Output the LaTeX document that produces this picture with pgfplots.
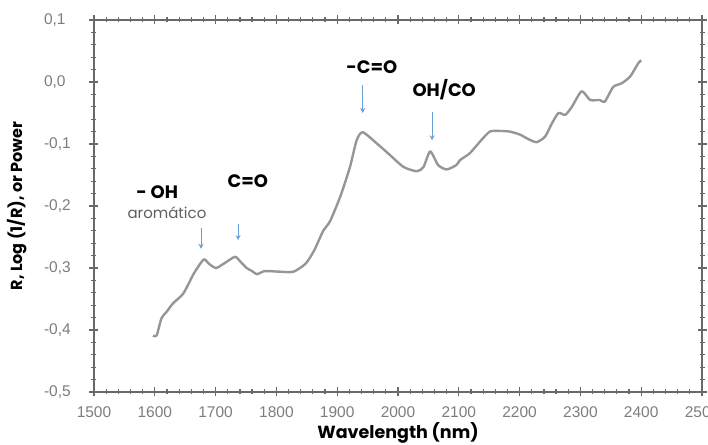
\documentclass[border=0pt]{standalone}
\usepackage{pgfplots}
\pgfplotsset{compat=1.18}
\usepackage{fontspec}
\setmainfont{Liberation Sans}
\newfontfamily\pop{Poppins}
\usetikzlibrary{arrows.meta}

\definecolor{axgray}{RGB}{105,105,105}
\definecolor{tickgray}{RGB}{125,125,125}
\definecolor{curvegray}{RGB}{150,150,150}
\definecolor{arrowblue}{RGB}{105,160,215}
\definecolor{softgray}{RGB}{95,95,95}

\begin{document}
\begin{tikzpicture}
\begin{axis}[
  name=ax,
  width=608pt, height=372pt, scale only axis,
  xmin=1500, xmax=2500, ymin=-0.5, ymax=0.1,
  xtick={1500,1600,...,2500},
  ytick={-0.5,-0.4,-0.3,-0.2,-0.1,0,0.1},
  minor x tick num=4, minor y tick num=4,
  tick align=center,
  major tick length=9pt, minor tick length=5pt,
  every tick/.style={draw=axgray, line width=1.2pt},
  axis line style={draw=axgray, line width=1.6pt},
  tick label style={font=\fontsize{15.5}{17}\selectfont, text=tickgray},
  xticklabel style={yshift=-7pt, /pgf/number format/set thousands separator={}},
  yticklabel style={anchor=west, xshift=-49pt, /pgf/number format/.cd, fixed, fixed zerofill, precision=1, use comma},
  /pgf/number format/assume math mode=true,
  xlabel={\pop\bfseries Wavelength (nm)},
  ylabel={\pop\bfseries R, Log (1/R), or Power},
  xlabel style={at={(axis description cs:0.5,-0.11)}, anchor=center, font=\fontsize{17.5}{20}\selectfont},
  ylabel style={at={(axis description cs:-0.127,0.5)}, anchor=center, font=\fontsize{16}{18}\selectfont},
]
\addplot[curvegray, line width=2.4pt, smooth, tension=0.4, line join=round] coordinates {
 (1597,-0.409) (1603,-0.409) (1611,-0.381) (1620,-0.370) (1630,-0.357)
 (1647,-0.341) (1663,-0.311) (1672,-0.297) (1681,-0.286) (1690,-0.294)
 (1701,-0.300) (1715,-0.292) (1732,-0.282) (1741,-0.290) (1751,-0.300)
 (1760,-0.305) (1768,-0.310) (1781,-0.305) (1806,-0.306) (1828,-0.306)
 (1848,-0.293) (1862,-0.272) (1877,-0.240) (1888,-0.225) (1905,-0.185)
 (1921,-0.137) (1932,-0.094) (1942,-0.081) (1965,-0.099) (1987,-0.118)
 (2009,-0.137) (2031,-0.144) (2042,-0.137) (2053,-0.112) (2066,-0.134)
 (2080,-0.141) (2096,-0.134) (2102,-0.126) (2118,-0.115) (2135,-0.096)
 (2151,-0.080) (2168,-0.079) (2184,-0.080) (2201,-0.085) (2214,-0.092)
 (2228,-0.097) (2242,-0.088) (2253,-0.067) (2264,-0.050) (2275,-0.053)
 (2286,-0.040) (2302,-0.015) (2316,-0.029) (2332,-0.029) (2340,-0.032)
 (2354,-0.008) (2368,-0.002) (2382,0.009) (2395,0.030) (2400,0.035)
};

% band assignments
\node[font=\pop\bfseries\fontsize{18}{20}\selectfont] at (axis cs:1604,-0.177) {- OH};
\node[font=\pop\fontsize{15}{18}\selectfont, text=softgray] at (axis cs:1620,-0.211) {aromático};
\node[font=\pop\bfseries\fontsize{18}{20}\selectfont] at (axis cs:1753,-0.160) {C=O};
\node[font=\pop\bfseries\fontsize{18}{20}\selectfont] at (axis cs:1957,0.024) {-C=O};
\node[font=\pop\bfseries\fontsize{18}{20}\selectfont] at (axis cs:2076,-0.013) {OH/CO};

\draw[arrowblue, line width=0.9pt, -{Stealth[length=5pt,width=5pt]}] (axis cs:1676,-0.235) -- (axis cs:1676,-0.269);
\draw[arrowblue, line width=0.9pt, -{Stealth[length=5pt,width=5pt]}] (axis cs:1737,-0.229) -- (axis cs:1737,-0.255);
\draw[arrowblue, line width=0.9pt, -{Stealth[length=5pt,width=5pt]}] (axis cs:1942,-0.005) -- (axis cs:1942,-0.050);
\draw[arrowblue, line width=0.9pt, -{Stealth[length=5pt,width=5pt]}] (axis cs:2056,-0.048) -- (axis cs:2056,-0.094);
\end{axis}
\pgfresetboundingbox
\path[use as bounding box] ([xshift=-94pt,yshift=-53pt]ax.south west) rectangle ([xshift=6pt,yshift=20pt]ax.north east);
\end{tikzpicture}
\end{document}
